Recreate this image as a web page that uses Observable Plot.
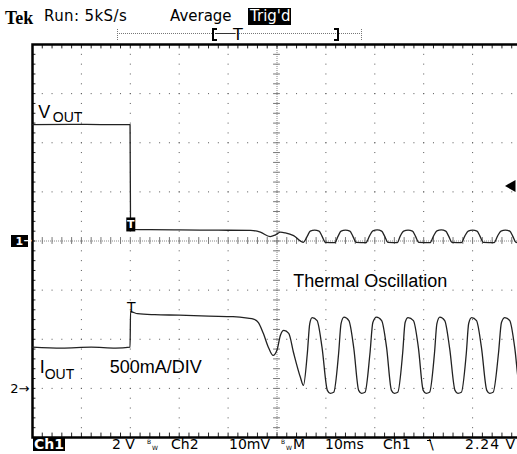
<!DOCTYPE html>
<html>
<head>
<meta charset="utf-8">
<script src="https://cdn.jsdelivr.net/npm/d3@7"></script>
<script src="https://cdn.jsdelivr.net/npm/@observablehq/plot@0.6"></script>
<style>
  html, body { margin: 0; padding: 0; background: #fff; }
  #wrap { position: relative; width: 517px; height: 454px; overflow: hidden; background: #fff; font-family: "DejaVu Sans", sans-serif; color: #000; }
  #chart { position: absolute; left: 0; top: 40px; width: 540px; }
  #chart svg { max-width: none !important; }
  .t { position: absolute; white-space: nowrap; line-height: 1; }
  .h { font-size: 15px; top: 9px; }
  .f { font-size: 14px; top: 437px; }
  .inv { background: #000; color: #fff; }
  .bw { position: absolute; font-size: 6px; line-height: 1; }
  .ln { position: absolute; }
</style>
</head>
<body>
<div id="wrap">
  <!-- header status line -->
  <span class="t" style="left:5px;top:8px;font:bold 18px 'Liberation Serif',serif;">Tek</span>
  <span class="t h" style="left:44px;letter-spacing:0.4px;">Run: 5kS/s</span>
  <span class="t h" style="left:170px;">Average</span>
  <span class="t h inv" style="left:248px;top:8px;height:16px;padding:1px 1px 0 2px;">Trig'd</span>
  <!-- record position bar -->
  <div class="ln" style="left:117px;top:33px;width:245px;border-top:1px dotted #777;"></div>
  <div class="ln" style="left:215px;top:33px;width:20px;border-top:1px solid #333;"></div>
  <div class="ln" style="left:117px;top:29px;height:11px;border-left:1px dotted #777;"></div>
  <div class="ln" style="left:361px;top:29px;height:11px;border-left:1px dotted #777;"></div>
  <div class="ln" style="left:212px;top:28px;width:3px;height:9px;border:2px solid #000;border-right:none;"></div>
  <span class="t" style="left:233px;top:26.5px;font-size:16px;">T</span>
  <div class="ln" style="left:334px;top:28px;width:3px;height:9px;border:2px solid #000;border-left:none;"></div>

  <div id="chart"></div>

  <!-- footer settings line -->
  <span class="t inv" style="left:33px;top:438px;height:13px;line-height:13px;font-size:14px;font-weight:bold;padding:0 1px;">Ch1</span>
  <span class="t f" style="left:112px;">2 V</span>
  <span class="bw" style="left:147px;top:439px;">B</span><span class="bw" style="left:152px;top:445px;">W</span>
  <span class="t f" style="left:171px;">Ch2</span>
  <span class="t f" style="left:229px;">10mV</span>
  <span class="bw" style="left:281px;top:439px;">B</span><span class="bw" style="left:286px;top:445px;">W</span>
  <span class="t f" style="left:293px;">M</span>
  <span class="t f" style="left:325px;">10ms</span>
  <span class="t f" style="left:383px;">Ch1</span>
  <div class="ln" style="left:427px;top:440px;width:4px;border-top:1.5px solid #000;"></div>
  <span class="t f" style="left:429px;">\</span>
  <span class="t f" style="left:465px;letter-spacing:1px;">2.24 V</span>
</div>
<script>
// ---- scope settings ----
const ch1VoltsPerDiv = 2;     // Ch1: 2 V/div
const ch2AmpsPerDiv = 0.5;    // I_OUT: 500 mA/DIV
const ch2OffsetDiv = -3;      // Ch2 ground marker "2→"
const triggerLevel = 2.24;    // V (Ch1 falling edge)
const triggerTime = 0;        // ms

// graticule: 10 ms/div horizontally, 8 divisions vertically
const timeTicks = [-20, -10, 0, 10, 20, 30, 40, 50, 60, 70, 80];
const divTicks = [-4, -3, -2, -1, 0, 1, 2, 3, 4];

// ---- traces: [time ms, value] ----
const vout = [
  [-20, 4.74], [-12, 4.75], [-6, 4.74], [-0.05, 4.74], [0.05, 0.47], [4, 0.46], [10, 0.45], [18, 0.44],
  [24.6, 0.43], [26.6, 0.36], [28.6, 0.18], [29.7, 0.25], [30.7, 0.36], [31.7, 0.33], [33.4, 0.22], [35.4, -0.05],
  [36.2, 0.2], [36.8, 0.40], [37.7, 0.44], [38.6, 0.40], [39.2, 0.2], [39.9, -0.06], [41.8, -0.07],
  [42.5, 0.2], [43.1, 0.40], [44.0, 0.44], [44.9, 0.40], [45.5, 0.2], [46.2, -0.06], [48.2, -0.07],
  [48.9, 0.2], [49.6, 0.41], [50.5, 0.45], [51.4, 0.40], [52.0, 0.2], [52.7, -0.06], [54.6, -0.07],
  [55.2, 0.2], [55.9, 0.40], [56.8, 0.44], [57.7, 0.40], [58.3, 0.2], [59.0, -0.06], [61.3, -0.07],
  [62.0, 0.2], [62.7, 0.41], [63.6, 0.45], [64.5, 0.40], [65.1, 0.2], [65.8, -0.06], [67.7, -0.07],
  [68.4, 0.2], [69.1, 0.40], [70.0, 0.44], [70.9, 0.40], [71.5, 0.2], [72.2, -0.06], [74.4, -0.07],
  [75.1, 0.2], [75.8, 0.40], [76.7, 0.44], [77.6, 0.40], [78.2, 0.2], [78.9, -0.06], [80, -0.07]
];
const iout = [
  [-20, 0.42], [-14, 0.41], [-8, 0.42], [-3, 0.41], [-0.05, 0.42], [0.05, 0.78], [1.5, 0.76], [5, 0.75],
  [10, 0.745], [16, 0.735], [21, 0.73], [24.0, 0.715], [25.2, 0.705], [26.2, 0.67], [27.2, 0.56], [28.3, 0.41],
  [29.2, 0.335], [30.0, 0.39], [30.7, 0.54], [31.4, 0.59], [32.4, 0.56], [33.4, 0.36], [34.8, 0.11], [35.4, 0.03],
  [36.2, 0.355], [36.7, 0.66], [37.2, 0.72], [38.2, 0.69], [39.2, 0.42], [40.3, -0.02], [40.9, -0.05], [41.6, -0.04],
  [42.6, 0.355], [43.1, 0.66], [43.7, 0.725], [44.7, 0.69], [45.7, 0.41], [46.7, -0.02], [47.3, -0.05], [48.0, -0.04],
  [49.0, 0.35], [49.6, 0.67], [50.35, 0.725], [51.4, 0.69], [52.4, 0.42], [53.4, -0.02], [54.0, -0.05], [54.7, -0.04],
  [55.7, 0.36], [56.2, 0.67], [56.8, 0.72], [57.9, 0.69], [58.9, 0.42], [59.9, -0.02], [60.5, -0.05], [61.2, -0.04],
  [62.2, 0.355], [62.7, 0.66], [63.3, 0.725], [64.3, 0.69], [65.3, 0.41], [66.4, -0.02], [67.0, -0.05], [67.7, -0.04],
  [68.7, 0.35], [69.2, 0.66], [69.8, 0.72], [70.8, 0.69], [71.8, 0.42], [72.9, -0.02], [73.5, -0.05], [74.2, -0.04],
  [75.3, 0.36], [75.9, 0.67], [76.6, 0.72], [77.6, 0.69], [78.6, 0.42], [79.6, 0.0], [80, -0.03]
];

// ---- labels ----
const voutLabel = ["V", "OUT"];
const ioutLabel = ["I", "OUT"];
const scaleLabel = "500mA/DIV";
const noteLabel = "Thermal Oscillation";

// derived graticule positions
const tMin = timeTicks[0], tMax = timeTicks[timeTicks.length - 1];
const dMin = divTicks[0], dMax = divTicks[divTicks.length - 1];
const tCenter = (tMin + tMax) / 2;
const minorX = timeTicks.flatMap(t => [0, 2, 4, 6, 8].map(k => t + k)).filter(t => t <= tMax);
const minorY = divTicks.flatMap(d => [0, 0.2, 0.4, 0.6, 0.8].map(k => +(d + k).toFixed(1))).filter(d => d <= dMax);
const gridX = timeTicks.filter(t => t !== tCenter && t !== tMin && t !== tMax);
const gridY = divTicks.filter(d => d !== 0 && d !== dMin && d !== dMax);

const ch1 = v => v / ch1VoltsPerDiv;
const ch2 = a => a / ch2AmpsPerDiv + ch2OffsetDiv;
const rectSymbol = (w, h) => ({draw(ctx) { ctx.rect(-w / 2, -h / 2, w, h); }});
const sans = "'Liberation Sans', Arial, sans-serif";
const scopeFont = "'DejaVu Sans', sans-serif";
const voutLow = vout.find(d => d[0] > triggerTime)[1];
const ioutHigh = iout.find(d => d[0] > triggerTime)[1];

const chart = Plot.plot({
  width: 540, height: 400,
  marginLeft: 32, marginRight: 19, marginTop: 4, marginBottom: 3,
  x: {domain: [tMin, tMax], axis: null},
  y: {domain: [dMin, dMax], axis: null},
  style: "max-width:none;overflow:visible;background:transparent;",
  marks: [
    // dotted graticule
    Plot.ruleX(gridX, {stroke: "#555", strokeDasharray: "1 8.825"}),
    Plot.ruleY(gridY, {stroke: "#555", strokeDasharray: "1 8.78"}),
    // centre cross with minor ticks
    Plot.ruleX([tCenter], {stroke: "#888", strokeDasharray: "1 1"}),
    Plot.ruleY([0], {stroke: "#888", strokeDasharray: "1 1"}),
    Plot.ruleX(minorX, {y1: -0.07, y2: 0.07, stroke: "#777"}),
    Plot.ruleY(minorY, {x1: tCenter - 0.7, x2: tCenter + 0.7, stroke: "#777"}),
    // border ticks
    Plot.ruleX(minorX, {y1: dMax, y2: dMax - 0.09, stroke: "#222"}),
    Plot.ruleX(minorX, {y1: dMin, y2: dMin + 0.09, stroke: "#222"}),
    Plot.ruleY(minorY, {x1: tMin, x2: tMin + 0.7, stroke: "#222"}),
    Plot.frame({stroke: "#000", strokeWidth: 2.5}),
    // traces
    Plot.line(vout, {x: d => d[0], y: d => ch1(d[1]), curve: "monotone-x", stroke: "#222", strokeWidth: 1.3}),
    Plot.line(iout, {x: d => d[0], y: d => ch2(d[1]), curve: "monotone-x", stroke: "#222", strokeWidth: 1.3}),
    // trigger markers
    Plot.dot([triggerTime], {x: d => d, y: ch1(voutLow), dy: -5, dx: 0.5, symbol: rectSymbol(9, 14), r: 5, fill: "#000", stroke: "none"}),
    Plot.text([triggerTime], {x: d => d, y: ch1(voutLow), dy: -5, dx: 0.5, text: () => "T", fill: "#fff", fontSize: 11, fontWeight: "bold", fontFamily: scopeFont, lineAnchor: "middle"}),
    Plot.text([triggerTime], {x: d => d, y: ch2(ioutHigh), dx: 1, text: () => "T", fill: "#000", fontSize: 14, fontFamily: scopeFont, lineAnchor: "bottom"}),
    Plot.dot([triggerLevel], {y: d => ch1(d), frameAnchor: "right", dx: -9.5, symbol: "triangle", rotate: -90, r: 4.5, fill: "#000", stroke: "none"}),
    // channel ground markers
    Plot.dot([0], {y: d => d, frameAnchor: "left", dx: -13, symbol: rectSymbol(17, 12), r: 5, fill: "#000", stroke: "none"}),
    Plot.text(["1"], {y: 0, frameAnchor: "left", dx: -17, text: d => d, fill: "#fff", fontSize: 11, fontWeight: "bold", fontFamily: scopeFont, lineAnchor: "middle"}),
    Plot.text(["→"], {y: 0, frameAnchor: "left", dx: -9, text: d => d, fill: "#fff", fontSize: 10, fontWeight: "bold", fontFamily: scopeFont, lineAnchor: "middle"}),
    Plot.text([ch2OffsetDiv], {y: d => d, frameAnchor: "left", dx: -3, text: () => "2→", textAnchor: "end", fill: "#000", fontSize: 13, fontFamily: scopeFont, lineAnchor: "middle"}),
    // annotations
    Plot.text([voutLabel[0]], {x: -18.8, y: 2.5, text: d => d, textAnchor: "start", lineAnchor: "bottom", fontSize: 18, fontFamily: sans, fill: "#000"}),
    Plot.text([voutLabel[1]], {x: -15.85, y: 2.42, text: d => d, textAnchor: "start", lineAnchor: "bottom", fontSize: 14, fontFamily: sans, fill: "#000"}),
    Plot.text([ioutLabel[0]], {x: -18.5, y: -2.69, text: d => d, textAnchor: "start", lineAnchor: "bottom", fontSize: 18, fontFamily: sans, fill: "#000"}),
    Plot.text([ioutLabel[1]], {x: -17.5, y: -2.81, text: d => d, textAnchor: "start", lineAnchor: "bottom", fontSize: 14, fontFamily: sans, fill: "#000"}),
    Plot.text([scaleLabel], {x: -4.2, y: -2.69, text: d => d, textAnchor: "start", lineAnchor: "bottom", fontSize: 18, fontFamily: sans, fill: "#000"}),
    Plot.text([noteLabel], {x: 33.3, y: -0.94, text: d => d, textAnchor: "start", lineAnchor: "bottom", fontSize: 18, fontFamily: sans, fill: "#000"})
  ]
});
document.getElementById("chart").append(chart);
</script>
</body>
</html>
